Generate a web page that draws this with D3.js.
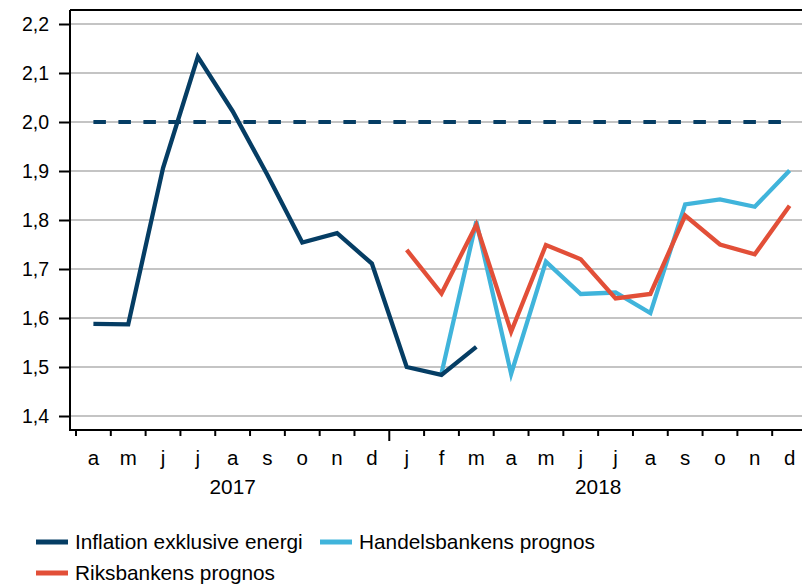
<!DOCTYPE html>
<html>
<head>
<meta charset="utf-8">
<script src="https://cdn.jsdelivr.net/npm/d3@7"></script>
<style>
  html, body { margin: 0; padding: 0; background: #fff; }
  svg { display: block; font-family: "Liberation Sans", Arial, sans-serif; }
</style>
</head>
<body>
<svg id="chart" width="802" height="586"></svg>
<script>
// ---- data ----
const months = ["a","m","j","j","a","s","o","n","d","j","f","m","a","m","j","j","a","s","o","n","d"];
const years = ["2017", "2018"];
const yearStart = [0, 9];
const yearEnd = [9, 21];
const yTicks = [1.4, 1.5, 1.6, 1.7, 1.8, 1.9, 2.0, 2.1, 2.2];
const target = 2.0;

const inflationStart = 0;
const inflation = [1.588, 1.587, 1.906, 2.133, 2.022, 1.892, 1.754, 1.773, 1.711, 1.500, 1.484, 1.541];
const handelsStart = 10;
const handels = [1.487, 1.797, 1.486, 1.715, 1.649, 1.652, 1.610, 1.832, 1.842, 1.827, 1.901];
const riksStart = 9;
const riks = [1.739, 1.650, 1.790, 1.572, 1.749, 1.720, 1.640, 1.649, 1.809, 1.750, 1.730, 1.829];

const seriesNames = ["Inflation exklusive energi", "Handelsbankens prognos", "Riksbankens prognos"];
const colors = { navy: "#053d64", light: "#40b4db", red: "#e24f38" };

// ---- layout ----
const svg = d3.select("#chart");
const axisX = 70, plotTop = 10, plotBottom = 430, plotRight = 802;

const x = d3.scaleBand().domain(d3.range(months.length)).range([76, 807]).padding(0);
const y = d3.scaleLinear().domain([1.4 - 14/490, 2.2 + 14/490]).range([plotBottom, plotTop]);
const cx = i => x(i) + x.bandwidth() / 2;

// gridlines
svg.append("g").selectAll("line").data(yTicks).join("line")
  .attr("x1", axisX).attr("x2", plotRight)
  .attr("y1", d => y(d)).attr("y2", d => y(d))
  .attr("stroke", "#c4c4c4").attr("stroke-width", 2);

// top border
svg.append("line").attr("x1", axisX).attr("x2", plotRight).attr("y1", plotTop).attr("y2", plotTop)
  .attr("stroke", "#000").attr("stroke-width", 2);

// y axis
const yAxis = d3.axisLeft(y).tickValues(yTicks).tickSize(11).tickPadding(10)
  .tickFormat(d => d3.format(".1f")(d).replace(".", ","));
const gy = svg.append("g").attr("transform", `translate(${axisX},0)`).call(yAxis);
gy.select(".domain").attr("d", `M0,${plotTop}V${plotBottom}`).attr("stroke", "#000").attr("stroke-width", 2);
gy.selectAll(".tick line").attr("stroke", "#000").attr("stroke-width", 2);
gy.selectAll(".tick text").attr("font-size", 19.5).attr("fill", "#000")
  .attr("font-family", "Liberation Sans, Arial, sans-serif").attr("dy", "0.35em");

// x axis
const gx = svg.append("g");
gx.append("line").attr("x1", axisX - 1).attr("x2", plotRight).attr("y1", plotBottom).attr("y2", plotBottom)
  .attr("stroke", "#000").attr("stroke-width", 2);
gx.selectAll(".tk").data(d3.range(months.length)).join("line")
  .attr("x1", d => x(d)).attr("x2", d => x(d))
  .attr("y1", plotBottom).attr("y2", d => yearStart.includes(d) && d > 0 ? 441 : 436)
  .attr("stroke", "#000").attr("stroke-width", 2);
gx.selectAll(".ml").data(months).join("text")
  .attr("x", (d, i) => cx(i)).attr("y", 465)
  .attr("text-anchor", "middle").attr("font-size", 20.5).attr("fill", "#000")
  .text(d => d);
gx.selectAll(".yl").data(years).join("text")
  .attr("x", (d, i) => (x(yearStart[i]) + (yearEnd[i] < months.length ? x(yearEnd[i]) : 807)) / 2)
  .attr("y", 494)
  .attr("text-anchor", "middle").attr("font-size", 20.8).attr("fill", "#000")
  .text(d => d);

// target dashed line
svg.append("line")
  .attr("x1", cx(0)).attr("x2", cx(months.length - 1))
  .attr("y1", y(target)).attr("y2", y(target))
  .attr("stroke", colors.navy).attr("stroke-width", 4).attr("stroke-dasharray", "12.5,12.5");

const line = d3.line().x(d => cx(d.i)).y(d => y(d.v));
const toPts = (arr, start) => arr.map((v, k) => ({ i: start + k, v }));

svg.append("path").datum(toPts(handels, handelsStart)).attr("d", line)
  .attr("fill", "none").attr("stroke", colors.light).attr("stroke-width", 4.3);
svg.append("path").datum(toPts(riks, riksStart)).attr("d", line)
  .attr("fill", "none").attr("stroke", colors.red).attr("stroke-width", 4.3);
svg.append("path").datum(toPts(inflation, inflationStart)).attr("d", line)
  .attr("fill", "none").attr("stroke", colors.navy).attr("stroke-width", 4.3);

// legend
const legend = [
  { name: seriesNames[0], color: colors.navy, x: 36, y: 542 },
  { name: seriesNames[1], color: colors.light, x: 320, y: 542 },
  { name: seriesNames[2], color: colors.red, x: 36, y: 573 }
];
const lg = svg.append("g").selectAll("g").data(legend).join("g")
  .attr("transform", d => `translate(${d.x},${d.y})`);
lg.append("line").attr("x1", 0).attr("x2", 32).attr("y1", 0).attr("y2", 0)
  .attr("stroke", d => d.color).attr("stroke-width", 5);
lg.append("text").attr("x", 39).attr("y", 7).attr("font-size", 20.8).attr("fill", "#000")
  .text(d => d.name);
</script>
</body>
</html>
